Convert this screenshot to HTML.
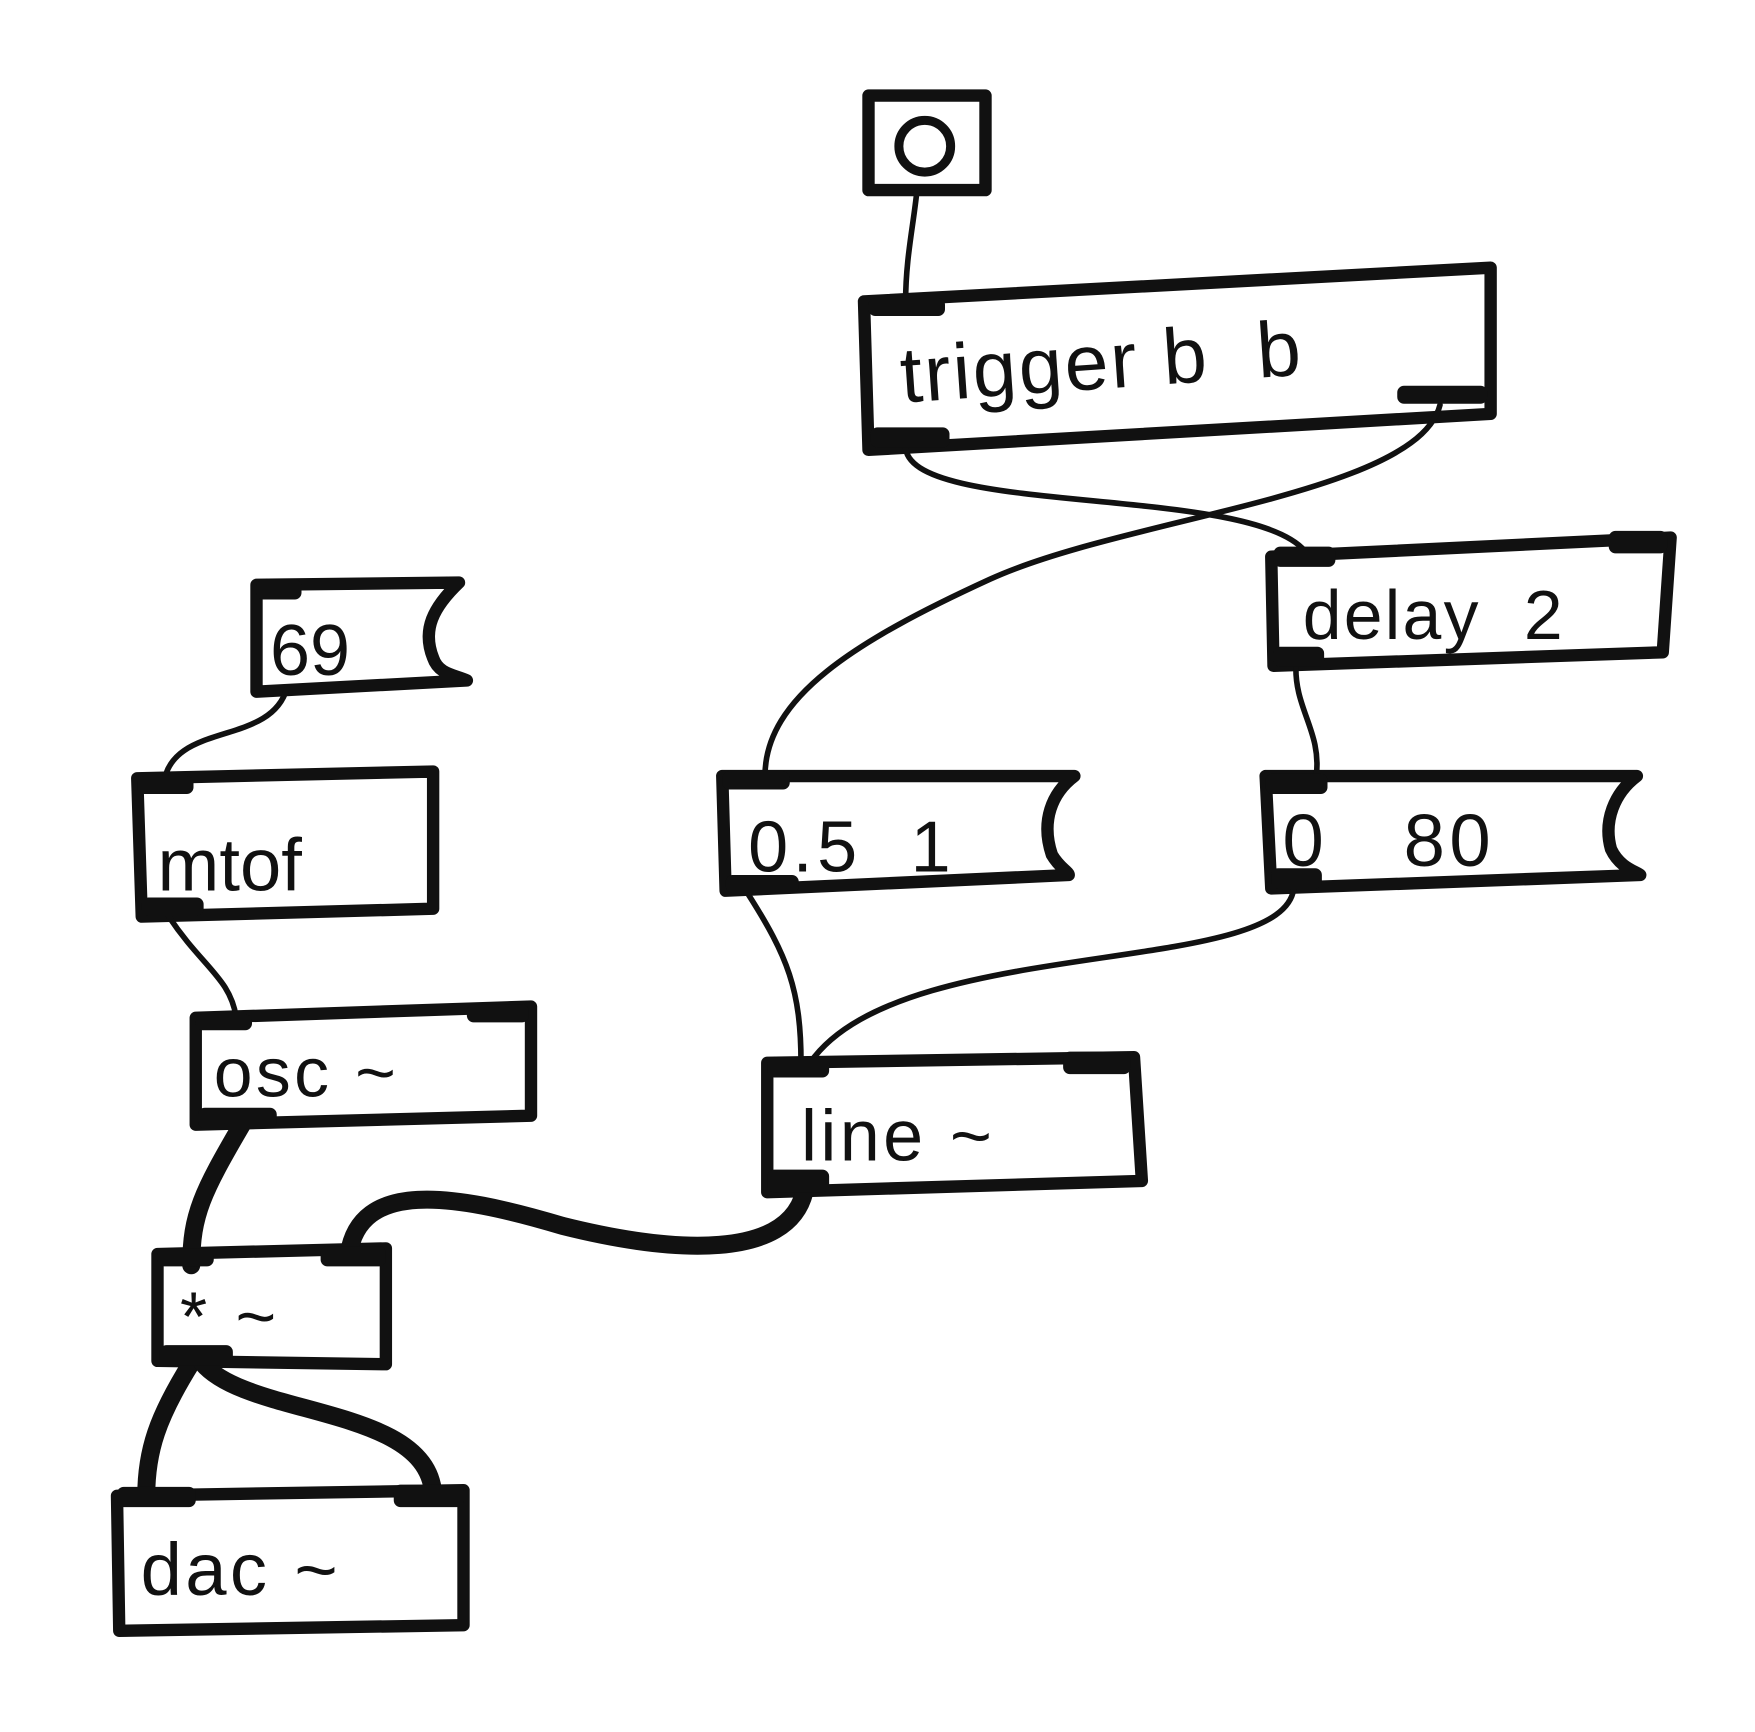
<!DOCTYPE html>
<html><head><meta charset="utf-8"><style>
html,body{margin:0;padding:0;background:#fff}
svg{display:block}
text{font-family:"Liberation Sans",sans-serif;fill:#111;white-space:pre}
</style></head><body>
<svg width="1755" height="1732" viewBox="0 0 1560 1540" preserveAspectRatio="none" xmlns="http://www.w3.org/2000/svg" xml:space="preserve">
<rect width="1560" height="1540" fill="#fff"/>
<g fill="none" stroke="#111" stroke-linecap="round" stroke-linejoin="round">
<g stroke-width="11">
<rect x="772" y="85" width="104" height="84"/>
<polygon points="768,268 1325,238 1325,368 772,400"/>
<polygon points="1130,495 1485,478 1478,580 1132,592"/>
<path d="M228,520 L408,518 C385,540 375,560 385,585 C390,600 405,600 415,605 L228,615 Z"/>
<polygon points="122,692 385,686 385,808 126,815"/>
<path d="M642,690 L955,690 C935,705 925,730 935,760 C942,772 950,775 950,778 L645,792 Z"/>
<path d="M1125,690 L1455,690 C1435,705 1425,730 1432,755 C1440,772 1455,775 1458,778 L1130,790 Z"/>
<polygon points="174,905 472,895 472,992 174,1000"/>
<polygon points="682,945 1008,940 1015,1050 682,1060"/>
<polygon points="140,1115 343,1110 343,1213 140,1210"/>
<polygon points="104,1330 412,1325 412,1445 106,1450"/>
</g>
<circle cx="822" cy="130" r="23" stroke-width="8"/>
<g stroke-width="5">
<path d="M815,170 C812,200 805,230 805,268"/>
<path d="M805,395 C800,460 1110,430 1160,490"/>
<path d="M1280,360 C1260,440 1000,460 880,515 C760,570 680,620 680,690"/>
<path d="M1152,590 C1150,630 1175,650 1170,690"/>
<path d="M665,795 C700,850 712,880 712,945"/>
<path d="M1150,790 C1140,870 800,830 720,945"/>
<path d="M255,612 C240,665 150,640 145,700"/>
<path d="M150,815 C180,860 205,870 210,905"/>
</g>
<g stroke-width="16">
<path d="M215,1000 C180,1060 170,1080 170,1125"/>
<path d="M715,1060 C700,1120 600,1115 500,1090 C400,1060 320,1050 310,1115"/>
<path d="M170,1212 C140,1260 130,1290 130,1330"/>
<path d="M180,1212 C220,1260 380,1250 385,1328"/>
</g>
</g>
<g fill="#111">
<rect x="772" y="265" width="68" height="16" rx="6"/>
<rect x="774" y="380" width="70" height="18" rx="6"/>
<rect x="1242" y="343" width="80" height="16" rx="6"/>
<rect x="1132" y="486" width="55" height="18" rx="6"/>
<rect x="1430" y="472" width="52" height="20" rx="6"/>
<rect x="1132" y="575" width="45" height="18" rx="6"/>
<rect x="228" y="515" width="40" height="18" rx="6"/>
<rect x="122" y="690" width="50" height="16" rx="6"/>
<rect x="126" y="798" width="55" height="16" rx="6"/>
<rect x="642" y="686" width="60" height="16" rx="6"/>
<rect x="645" y="778" width="65" height="16" rx="6"/>
<rect x="1125" y="688" width="55" height="18" rx="6"/>
<rect x="1130" y="772" width="45" height="18" rx="6"/>
<rect x="174" y="902" width="50" height="14" rx="6"/>
<rect x="415" y="893" width="55" height="16" rx="6"/>
<rect x="176" y="985" width="70" height="18" rx="6"/>
<rect x="682" y="940" width="55" height="18" rx="6"/>
<rect x="945" y="935" width="60" height="20" rx="6"/>
<rect x="682" y="1040" width="55" height="20" rx="6"/>
<rect x="140" y="1110" width="50" height="16" rx="6"/>
<rect x="285" y="1108" width="58" height="18" rx="6"/>
<rect x="142" y="1196" width="65" height="18" rx="6"/>
<rect x="104" y="1322" width="70" height="18" rx="6"/>
<rect x="350" y="1320" width="62" height="20" rx="6"/>
</g>
<text x="802" y="358" font-size="70" letter-spacing="2" transform="rotate(-4 802 358)">trigger b  b</text>
<text x="1158" y="568" font-size="62" letter-spacing="2">delay  2</text>
<text x="240" y="600" font-size="64">69</text>
<text x="140" y="792" font-size="66">mtof</text>
<text x="665" y="775" font-size="64" letter-spacing="4">0.5  1</text>
<text x="1140" y="770" font-size="66" letter-spacing="4">0   80</text>
<text x="190" y="975" font-size="62" letter-spacing="3">osc ~</text>
<text x="712" y="1032" font-size="64" letter-spacing="3">line ~</text>
<text x="160" y="1192" font-size="62" letter-spacing="4">* ~</text>
<text x="125" y="1418" font-size="66" letter-spacing="3">dac ~</text>
</svg>
</body></html>
